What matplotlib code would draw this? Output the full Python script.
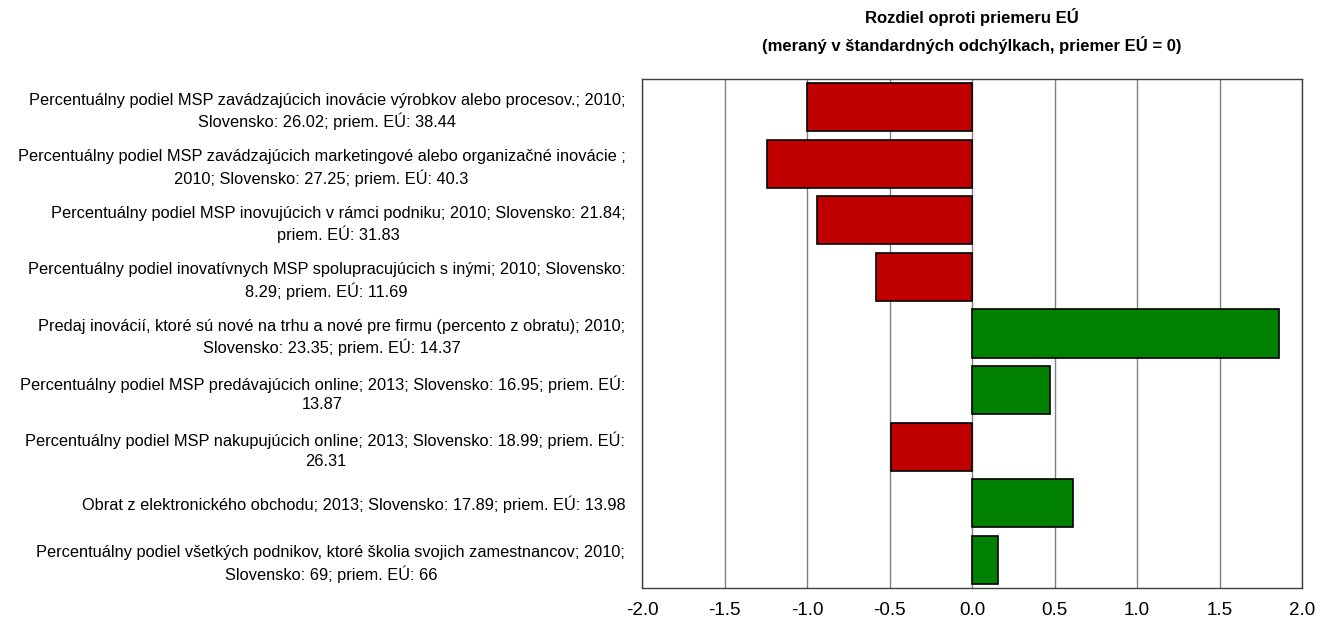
import matplotlib
matplotlib.use("Agg")
import matplotlib.pyplot as plt

labels = [
    "Percentuálny podiel MSP zavádzajúcich inovácie výrobkov alebo procesov.; 2010;\nSlovensko: 26.02; priem. EÚ: 38.44",
    "Percentuálny podiel MSP zavádzajúcich marketingové alebo organizačné inovácie ;\n2010; Slovensko: 27.25; priem. EÚ: 40.3",
    "Percentuálny podiel MSP inovujúcich v rámci podniku; 2010; Slovensko: 21.84;\npriem. EÚ: 31.83",
    "Percentuálny podiel inovatívnych MSP spolupracujúcich s inými; 2010; Slovensko:\n8.29; priem. EÚ: 11.69",
    "Predaj inovácií, ktoré sú nové na trhu a nové pre firmu (percento z obratu); 2010;\nSlovensko: 23.35; priem. EÚ: 14.37",
    "Percentuálny podiel MSP predávajúcich online; 2013; Slovensko: 16.95; priem. EÚ:\n13.87",
    "Percentuálny podiel MSP nakupujúcich online; 2013; Slovensko: 18.99; priem. EÚ:\n26.31",
    "Obrat z elektronického obchodu; 2013; Slovensko: 17.89; priem. EÚ: 13.98",
    "Percentuálny podiel všetkých podnikov, ktoré školia svojich zamestnancov; 2010;\nSlovensko: 69; priem. EÚ: 66",
]
values = [-1.00, -1.24, -0.94, -0.58, 1.86, 0.47, -0.49, 0.61, 0.16]
xticks = [-2.0, -1.5, -1.0, -0.5, 0.0, 0.5, 1.0, 1.5, 2.0]
title = "Rozdiel oproti priemeru EÚ\n(meraný v štandardných odchýlkach, priemer EÚ = 0)"

plt.rcParams['font.family'] = ['Liberation Sans', 'DejaVu Sans']

fig = plt.figure(figsize=(13.3, 6.25), dpi=100)
ax = fig.add_axes([642/1330, 1 - 588/625, 660/1330, (588-79)/625])

colors = ['#C00000' if v < 0 else '#008000' for v in values]
ypos = list(range(len(values)))
ax.barh(ypos, values, height=0.85, color=colors, edgecolor='black', linewidth=1.2, zorder=3)
ax.set_ylim(len(values) - 0.5, -0.5)
ax.set_xlim(-2.0, 2.0)
ax.set_xticks(xticks)
ax.set_xticklabels([f"{t:.1f}" for t in xticks], fontsize=13.5)
ax.xaxis.grid(True, color='#808080', linewidth=1, zorder=0)
ax.tick_params(axis='x', length=0, pad=10)
ax.set_yticks(ypos)
ax.set_yticklabels(labels, fontsize=11.8, multialignment='center', linespacing=1.35)
ax.tick_params(axis='y', length=0, pad=12)
for s in ax.spines.values():
    s.set_color('#404040')
    s.set_linewidth(1)

fig.text((642 + 1302) / 2 / 1330, 1 - 31/625, title, ha='center', va='center',
         fontsize=12, fontweight='bold', linespacing=1.6)

fig.savefig("out.png", dpi=100)
